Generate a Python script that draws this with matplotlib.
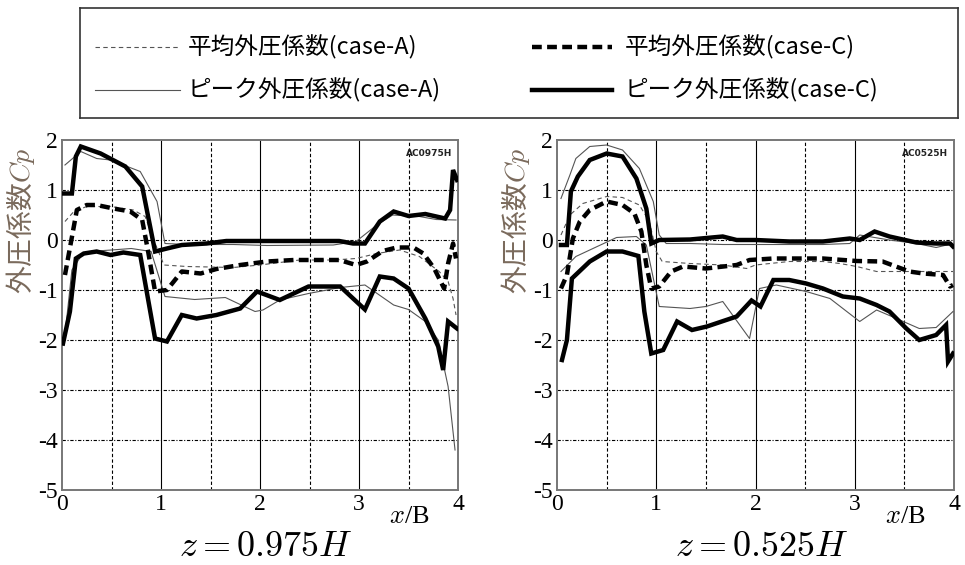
import matplotlib
matplotlib.use("Agg")
import matplotlib.pyplot as plt
from matplotlib.lines import Line2D

plt.rcParams['axes.unicode_minus'] = False
plt.rcParams['mathtext.fontset'] = 'cm'

# ---------------- data: z = 0.975H ----------------
L_peakC_max_x = [0.01, 0.10, 0.14, 0.19, 0.39, 0.64, 0.81, 0.94, 1.06, 1.21, 1.46, 1.66, 2.0, 2.4, 2.8, 2.94, 3.06, 3.21, 3.35, 3.50, 3.67, 3.87, 3.92, 3.95, 3.99]
L_peakC_max_y = [0.93, 0.93, 1.67, 1.87, 1.73, 1.47, 1.07, -0.23, -0.17, -0.10, -0.07, -0.02, -0.02, -0.02, -0.02, -0.07, -0.07, 0.37, 0.57, 0.48, 0.52, 0.43, 0.60, 1.40, 1.20]
L_peakA_max_x = [0.03, 0.19, 0.35, 0.49, 0.79, 0.96, 1.04, 1.26, 1.73, 2.07, 2.74, 2.97, 3.18, 3.34, 3.61, 3.78, 3.98]
L_peakA_max_y = [1.50, 1.77, 1.63, 1.60, 1.37, 0.77, -0.07, -0.09, -0.09, -0.11, -0.10, -0.03, 0.30, 0.50, 0.47, 0.41, 0.40]
L_meanC_x = [0.03, 0.15, 0.25, 0.35, 0.52, 0.69, 0.81, 0.87, 0.94, 1.06, 1.21, 1.40, 1.56, 1.80, 2.07, 2.34, 2.60, 2.80, 2.97, 3.08, 3.24, 3.38, 3.55, 3.65, 3.76, 3.86, 3.90, 3.95, 3.98]
L_meanC_y = [-0.70, 0.60, 0.70, 0.70, 0.63, 0.57, 0.40, -0.23, -1.03, -1.00, -0.63, -0.67, -0.58, -0.50, -0.43, -0.40, -0.40, -0.40, -0.50, -0.43, -0.22, -0.15, -0.15, -0.27, -0.57, -0.97, -0.47, -0.07, -0.37]
L_meanA_x = [0.03, 0.12, 0.25, 0.49, 0.72, 0.84, 0.92, 1.03, 1.26, 1.73, 2.0, 2.4, 2.74, 2.97, 3.18, 3.41, 3.61, 3.81, 3.90, 3.95, 3.98]
L_meanA_y = [0.37, 0.57, 0.67, 0.67, 0.60, 0.47, 0.03, -0.50, -0.53, -0.55, -0.50, -0.40, -0.40, -0.37, -0.27, -0.20, -0.33, -0.63, -0.83, -1.17, -1.50]
L_peakC_min_x = [0.01, 0.08, 0.14, 0.22, 0.35, 0.49, 0.62, 0.79, 0.94, 1.06, 1.21, 1.36, 1.56, 1.80, 1.97, 2.20, 2.49, 2.81, 3.06, 3.21, 3.35, 3.50, 3.67, 3.80, 3.85, 3.90, 3.99]
L_peakC_min_y = [-2.07, -1.43, -0.37, -0.27, -0.23, -0.30, -0.25, -0.30, -1.97, -2.03, -1.50, -1.57, -1.50, -1.37, -1.03, -1.20, -0.93, -0.93, -1.39, -0.73, -0.77, -0.97, -1.57, -2.13, -2.60, -1.63, -1.77]
L_peakA_min_x = [0.03, 0.10, 0.20, 0.35, 0.50, 0.70, 0.90, 1.04, 1.34, 1.65, 1.95, 2.03, 2.20, 2.49, 2.81, 3.06, 3.35, 3.50, 3.67, 3.80, 3.90, 3.97]
L_peakA_min_y = [-1.90, -0.60, -0.30, -0.22, -0.20, -0.17, -0.23, -1.13, -1.19, -1.15, -1.43, -1.40, -1.20, -1.07, -0.95, -0.90, -1.30, -1.39, -1.63, -2.00, -2.93, -4.20]

# ---------------- data: z = 0.525H ----------------
R_peakC_max_x = [0.04, 0.10, 0.14, 0.21, 0.33, 0.50, 0.66, 0.80, 0.90, 0.95, 1.03, 1.34, 1.67, 1.81, 2.0, 2.34, 2.68, 2.95, 3.05, 3.20, 3.35, 3.62, 3.82, 3.96, 3.99]
R_peakC_max_y = [-0.10, -0.10, 0.97, 1.27, 1.60, 1.73, 1.67, 1.23, 0.63, -0.07, 0.0, 0.01, 0.07, 0.0, 0.0, -0.03, -0.03, 0.03, 0.0, 0.17, 0.07, -0.05, -0.07, -0.07, -0.13]
R_peakA_max_x = [0.04, 0.13, 0.19, 0.33, 0.50, 0.66, 0.83, 0.97, 1.03, 1.10, 1.34, 1.67, 2.0, 2.34, 2.68, 2.95, 3.05, 3.35, 3.62, 3.82, 3.99]
R_peakA_max_y = [0.83, 1.30, 1.63, 1.87, 1.90, 1.80, 1.43, 0.77, 0.10, -0.07, -0.07, -0.09, -0.09, -0.09, -0.09, -0.07, 0.10, 0.0, -0.07, -0.15, -0.07]
R_meanC_x = [0.04, 0.10, 0.16, 0.23, 0.33, 0.50, 0.66, 0.78, 0.85, 0.90, 0.95, 1.03, 1.15, 1.27, 1.50, 1.81, 1.94, 2.18, 2.51, 2.68, 3.02, 3.28, 3.55, 3.69, 3.89, 3.96, 3.99]
R_meanC_y = [-0.97, -0.70, 0.03, 0.37, 0.60, 0.77, 0.70, 0.53, 0.17, -0.50, -0.97, -0.93, -0.63, -0.53, -0.57, -0.50, -0.40, -0.37, -0.37, -0.37, -0.42, -0.43, -0.63, -0.67, -0.70, -0.93, -0.90]
R_meanA_x = [0.04, 0.13, 0.26, 0.50, 0.66, 0.83, 0.93, 1.0, 1.06, 1.34, 1.67, 1.91, 2.0, 2.34, 2.68, 2.85, 3.02, 3.22, 3.52, 3.99]
R_meanA_y = [0.10, 0.50, 0.73, 0.87, 0.85, 0.70, 0.37, -0.23, -0.43, -0.47, -0.50, -0.57, -0.50, -0.43, -0.43, -0.47, -0.53, -0.63, -0.63, -0.63]
R_peakC_min_x = [0.05, 0.10, 0.15, 0.33, 0.50, 0.66, 0.82, 0.88, 0.95, 1.07, 1.21, 1.36, 1.51, 1.81, 1.96, 2.05, 2.18, 2.34, 2.51, 2.68, 2.88, 3.05, 3.22, 3.35, 3.52, 3.65, 3.82, 3.92, 3.94, 3.99]
R_peakC_min_y = [-2.40, -2.00, -0.77, -0.43, -0.23, -0.23, -0.32, -1.43, -2.27, -2.20, -1.63, -1.80, -1.73, -1.53, -1.21, -1.33, -0.80, -0.80, -0.87, -0.97, -1.13, -1.17, -1.30, -1.43, -1.77, -2.00, -1.90, -1.70, -2.43, -2.27]
R_peakA_min_x = [0.04, 0.19, 0.33, 0.60, 0.80, 0.90, 1.03, 1.34, 1.50, 1.67, 1.94, 2.04, 2.21, 2.51, 2.75, 3.05, 3.22, 3.42, 3.65, 3.82, 3.99]
R_peakA_min_y = [-0.63, -0.33, -0.20, 0.05, 0.07, -0.10, -1.33, -1.37, -1.33, -1.23, -1.97, -0.97, -0.90, -1.03, -1.17, -1.63, -1.40, -1.57, -1.77, -1.75, -1.43]

xticks = [0, 1, 2, 3, 4]
yticks = [2, 1, 0, -1, -2, -3, -4, -5]
titles = [r'$z = 0.975H$', r'$z = 0.525H$']
codes = ['AC0975H', 'AC0525H']
legend_labels = ['平均外圧係数(case-A)', 'ピーク外圧係数(case-A)', '平均外圧係数(case-C)', 'ピーク外圧係数(case-C)']

CJK = ['Noto Sans CJK JP', 'DejaVu Sans']

sty_meanA = dict(color='#555555', lw=0.8, dashes=(4, 3))
sty_peakA = dict(color='#555555', lw=0.8, linestyle='-')
sty_meanC = dict(color='black', lw=3.2, dashes=(2.2, 1.2), dash_capstyle='butt')
sty_peakC = dict(color='black', lw=3.2, linestyle='-', solid_joinstyle='miter')

fig = plt.figure(figsize=(9.65, 5.65), dpi=100)

axes_pos = [[62/965, 75/565, 396/965, 350/565], [557/965, 75/565, 397/965, 350/565]]
panels = [
    (L_meanA_x, L_meanA_y, L_peakA_max_x, L_peakA_max_y, L_peakA_min_x, L_peakA_min_y,
     L_meanC_x, L_meanC_y, L_peakC_max_x, L_peakC_max_y, L_peakC_min_x, L_peakC_min_y),
    (R_meanA_x, R_meanA_y, R_peakA_max_x, R_peakA_max_y, R_peakA_min_x, R_peakA_min_y,
     R_meanC_x, R_meanC_y, R_peakC_max_x, R_peakC_max_y, R_peakC_min_x, R_peakC_min_y),
]

for i, (pos, d) in enumerate(zip(axes_pos, panels)):
    ax = fig.add_axes(pos)
    ax.set_xlim(0, 4)
    ax.set_ylim(-5, 2)
    # grid
    for gx in [1, 2, 3]:
        ax.axvline(gx, color='black', lw=0.8, zorder=1)
    for gx in [0.5, 1.5, 2.5, 3.5]:
        ax.axvline(gx, color='black', lw=0.8, dashes=(3, 2), zorder=1)
    for gy in [1, 0, -1, -2, -3, -4]:
        ax.axhline(gy, color='black', lw=0.8, dashes=(3, 1.5, 1, 1.5), zorder=1)
    (mAx, mAy, pAxx, pAxy, pAnx, pAny, mCx, mCy, pCxx, pCxy, pCnx, pCny) = d
    ax.plot(mAx, mAy, zorder=3, **sty_meanA)
    ax.plot(pAxx, pAxy, zorder=3, **sty_peakA)
    ax.plot(pAnx, pAny, zorder=3, **sty_peakA)
    ax.plot(mCx, mCy, zorder=4, **sty_meanC)
    ax.plot(pCxx, pCxy, zorder=4, **sty_peakC)
    ax.plot(pCnx, pCny, zorder=4, **sty_peakC)

    ax.set_xticks(xticks)
    ax.set_yticks(yticks)
    ax.set_xticklabels([str(t) for t in xticks], fontfamily='Liberation Serif', fontsize=17)
    ax.set_yticklabels([str(t) for t in yticks], fontfamily='Liberation Serif', fontsize=17)
    ax.tick_params(length=0, pad=3)
    for s in ax.spines.values():
        s.set_color('#777777')
        s.set_linewidth(1.4)

    ax.text(0.985, 0.975, codes[i], transform=ax.transAxes, ha='right', va='top',
            fontsize=6.5, fontweight='bold', family='Liberation Sans Narrow',
            color='#222222')
    ax.text(0.878, -0.078, r'$x$/B', transform=ax.transAxes, ha='center', va='center',
            fontsize=19, fontfamily='Liberation Serif')
    ax.text(0.515, -0.16, titles[i], transform=ax.transAxes, ha='center', va='center', fontsize=26)
    ax.set_ylabel('外圧係数$Cp$', family=CJK, fontsize=20, color='#7a6a5c')
    ax.yaxis.set_label_coords(-0.062, 0.77)

# legend box
lax = fig.add_axes([80/965, (565-118)/565, 878/965, 110/565])
lax.set_xlim(0, 878)
lax.set_ylim(110, 0)
lax.set_xticks([])
lax.set_yticks([])
for s in lax.spines.values():
    s.set_color('#333333')
    s.set_linewidth(1.2)

rows = [39, 82]
lax.add_line(Line2D([15, 100], [rows[0], rows[0]], **sty_meanA))
lax.add_line(Line2D([15, 100], [rows[1], rows[1]], **sty_peakA))
lax.add_line(Line2D([452, 532], [rows[0], rows[0]], **sty_meanC))
lax.add_line(Line2D([452, 532], [rows[1], rows[1]], **sty_peakC))
lax.text(108, rows[0], legend_labels[0], family=CJK, fontsize=17, va='center', ha='left')
lax.text(108, rows[1], legend_labels[1], family=CJK, fontsize=17, va='center', ha='left')
lax.text(545, rows[0], legend_labels[2], family=CJK, fontsize=17, va='center', ha='left')
lax.text(545, rows[1], legend_labels[3], family=CJK, fontsize=17, va='center', ha='left')

fig.savefig('out.png', dpi=100)
